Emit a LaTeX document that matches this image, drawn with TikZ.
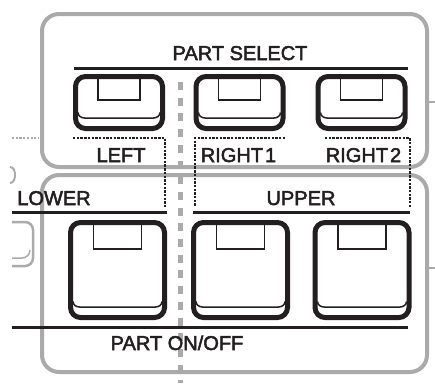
\documentclass[tikz,border=0pt]{standalone}
\usepackage{fontspec}
\setmainfont{Liberation Sans}
\font\lblraw="Liberation Sans:embolden=2.5" at 20pt
\definecolor{ink}{RGB}{35,31,32}
\definecolor{pgray}{RGB}{170,170,170}
\newcommand\keydeco[3]{%
  \draw[thinink] ([xshift=-#2pt]#1.north) rectangle ([xshift=#2pt,yshift=-#3pt]#1.north);
  \draw[thinink] ([xshift=2.5pt,yshift=16pt]#1.south west) to[out=-90,in=180]
    ([xshift=9pt,yshift=10.5pt]#1.south west) -- ([xshift=-9pt,yshift=10.5pt]#1.south east)
    to[out=0,in=-90] ([xshift=-2.5pt,yshift=16pt]#1.south east);
}
\begin{document}
\begin{tikzpicture}[x=1pt,y=-1pt,
  panel/.style={draw=pgray,line width=4pt,rounded corners=17pt},
  rule/.style={draw=ink,line width=3pt},
  dotline/.style={draw=ink,line width=2.8pt,dash pattern=on 2.4pt off 1.3pt},
  gdot/.style={draw=pgray,line width=2.5pt,dash pattern=on 2.2pt off 1.5pt},
  centerdash/.style={draw=pgray,line width=5pt,dash pattern=on 8pt off 7.7pt},
  keyS/.style={draw=ink,line width=5pt,rounded corners=10pt,minimum width=87pt,minimum height=52pt,inner sep=0pt,outer sep=0pt},
  keyL/.style={keyS,minimum width=94pt,minimum height=95pt},
  thinink/.style={draw=ink,line width=1.5pt},
  lbl/.style={font=\lblraw,text=ink,anchor=base,inner sep=0pt},
  ghost/.style={draw=pgray,line width=2.5pt},
  ghostthin/.style={draw=pgray,line width=1.5pt}]
\useasboundingbox (0,0) rectangle (435,383);
% panels
\draw[panel] (42,14) rectangle (427,167);
\draw[panel] (42,175) rectangle (427,372);
\draw[ghost] (427,102) -- (435,102);
\draw[ghost] (427,268) -- (435,268);
% ghost neighbours at left
\draw[ghost,line width=2pt] (10,167) to[out=0,in=90] (15,175) to[out=-90,in=0] (10,183);
\draw[ghost,rounded corners=8pt] (12,222) -- (33,222) -- (33,266) -- (12,266);
\draw[ghostthin] (30,250) to[out=-90,in=0] (22,258) -- (12,258);
\draw[gdot] (12,138) -- (38,138);
% rules
\draw[rule] (74,68) -- (408,68);
\draw[rule] (12,212) -- (167,212);
\draw[rule] (193,212) -- (410,212);
\draw[rule] (12,327) -- (408,327);
% dotted group brackets
\draw[dotline] (73,138) -- (165,138) -- (165,207);
\draw[dotline] (285,138) -- (195,138) -- (195,207);
\draw[dotline] (325,138) -- (410,138) -- (410,207);
% centre dashed line
\draw[centerdash] (180,82) -- (180,383);
% top row keys
\node[keyS] (kL) at (119,102.5) {};
\node[keyS] (kR1) at (239.5,102.5) {};
\node[keyS] (kR2) at (361.5,102.5) {};
\keydeco{kL}{21}{23.5}
\keydeco{kR1}{21}{23.5}
\keydeco{kR2}{21}{23.5}
% bottom row keys
\node[keyL] (bL) at (117.5,270) {};
\node[keyL] (bM) at (240.5,270) {};
\node[keyL] (bR) at (362,270) {};
\keydeco{bL}{24}{26.5}
\keydeco{bM}{24}{26.5}
\keydeco{bR}{24}{26.5}
% labels
\node[lbl] (tSel) at (240,60) {PART SELECT};
\node[lbl] (tLeft) at (121,162) {LEFT};
\node[lbl] (tR1) at (238.5,162) {RIGHT\hspace{2pt}1};
\node[lbl] (tR2) at (363.5,162) {RIGHT\hspace{2pt}2};
\node[lbl] (tLow) at (54,205) {LOWER};
\node[lbl] (tUp) at (301,205) {UPPER};
\node[lbl] (tOn) at (177,350) {PART ON/OFF};
\end{tikzpicture}
\end{document}
